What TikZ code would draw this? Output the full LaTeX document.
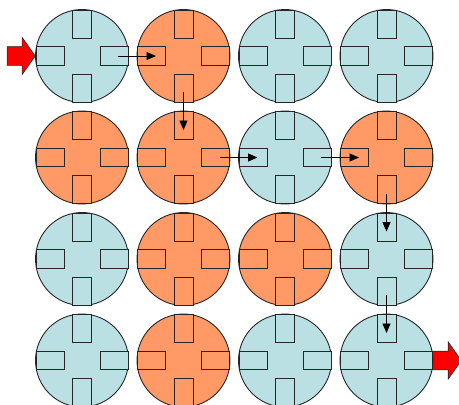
\documentclass[tikz,border=0pt]{standalone}
\usepackage{tikz}
\usetikzlibrary{arrows.meta,positioning,shapes.arrows}
\definecolor{Outline}{HTML}{262626}
\definecolor{TileBlue}{HTML}{BAE0E3}
\definecolor{TileOrange}{HTML}{FF9966}
\definecolor{FlowRed}{HTML}{FF0000}

\begin{document}
\begin{tikzpicture}[x=1pt,y=-1pt]
  \useasboundingbox (0,0) rectangle (459,405);
  \clip (0,0) rectangle (459,405);
  \tikzset{
    tileDisc/.style={
      circle, draw=Outline, line width=.9pt,
      minimum size=93pt, inner sep=0pt
    },
    tilePortH/.style={
      rectangle, draw=Outline, line width=.9pt,
      minimum width=28pt, minimum height=18.5pt, inner sep=0pt
    },
    tilePortV/.style={
      tilePortH, minimum width=19pt, minimum height=28pt
    },
    pics/tile/.style={
      code={
        \node[tileDisc, fill=#1] (-disc) at (0,0) {};
        \node[tilePortV, fill=#1] (-n) at (0,-32) {};
        \node[tilePortH, fill=#1] (-e) at (32,0) {};
        \node[tilePortV, fill=#1] (-s) at (0,32) {};
        \node[tilePortH, fill=#1] (-w) at (-32,0) {};
      }
    },
    tileFlow/.style={
      -{Triangle[length=9.5pt,width=8pt]}, draw=black,
      line width=.9pt
    },
    tileGate/.style={
      single arrow, draw=Outline, fill=FlowRed, line width=.6pt,
      minimum height=28pt, inner xsep=0pt, inner ysep=9pt,
      single arrow head extend=9.3pt, single arrow tip angle=110
    }
  }

  % row 1
  \pic (c11) at (82,56)      {tile=TileBlue};
  \pic (c12) at (183.5,56)   {tile=TileOrange};
  \pic (c13) at (285,56)     {tile=TileBlue};
  \pic (c14) at (386.5,56)   {tile=TileBlue};
  % row 2
  \pic (c21) at (82,157.5)    {tile=TileOrange};
  \pic (c22) at (183.5,157.5) {tile=TileOrange};
  \pic (c23) at (285,157.5)   {tile=TileBlue};
  \pic (c24) at (386.5,157.5) {tile=TileOrange};
  % row 3
  \pic (c31) at (82,259)      {tile=TileBlue};
  \pic (c32) at (183.5,259)   {tile=TileOrange};
  \pic (c33) at (285,259)     {tile=TileOrange};
  \pic (c34) at (386.5,259)   {tile=TileBlue};
  % row 4
  \pic (c41) at (82,360.5)    {tile=TileBlue};
  \pic (c42) at (183.5,360.5) {tile=TileOrange};
  \pic (c43) at (285,360.5)   {tile=TileBlue};
  \pic (c44) at (386.5,360.5) {tile=TileBlue};

  \node[tileGate, anchor=tip] (entry) at (c11-w.west) {};
  \node[tileGate, anchor=tail] (exit) at (c44-e.east) {};

  \draw[tileFlow] ([xshift=4pt]c11-e.center) -- ([xshift=4.5pt]c12-w.center);
  \draw[tileFlow] ([yshift=-4pt]c12-s.center) -- ([yshift=-4.5pt]c22-n.center);
  \draw[tileFlow] ([xshift=4pt]c22-e.center) -- ([xshift=4.5pt]c23-w.center);
  \draw[tileFlow] ([xshift=4pt]c23-e.center) -- ([xshift=4.5pt]c24-w.center);
  \draw[tileFlow] ([yshift=-4pt]c24-s.center) -- ([yshift=-4.5pt]c34-n.center);
  \draw[tileFlow] ([yshift=-4pt]c34-s.center) -- ([yshift=-4.5pt]c44-n.center);
\end{tikzpicture}
\end{document}
